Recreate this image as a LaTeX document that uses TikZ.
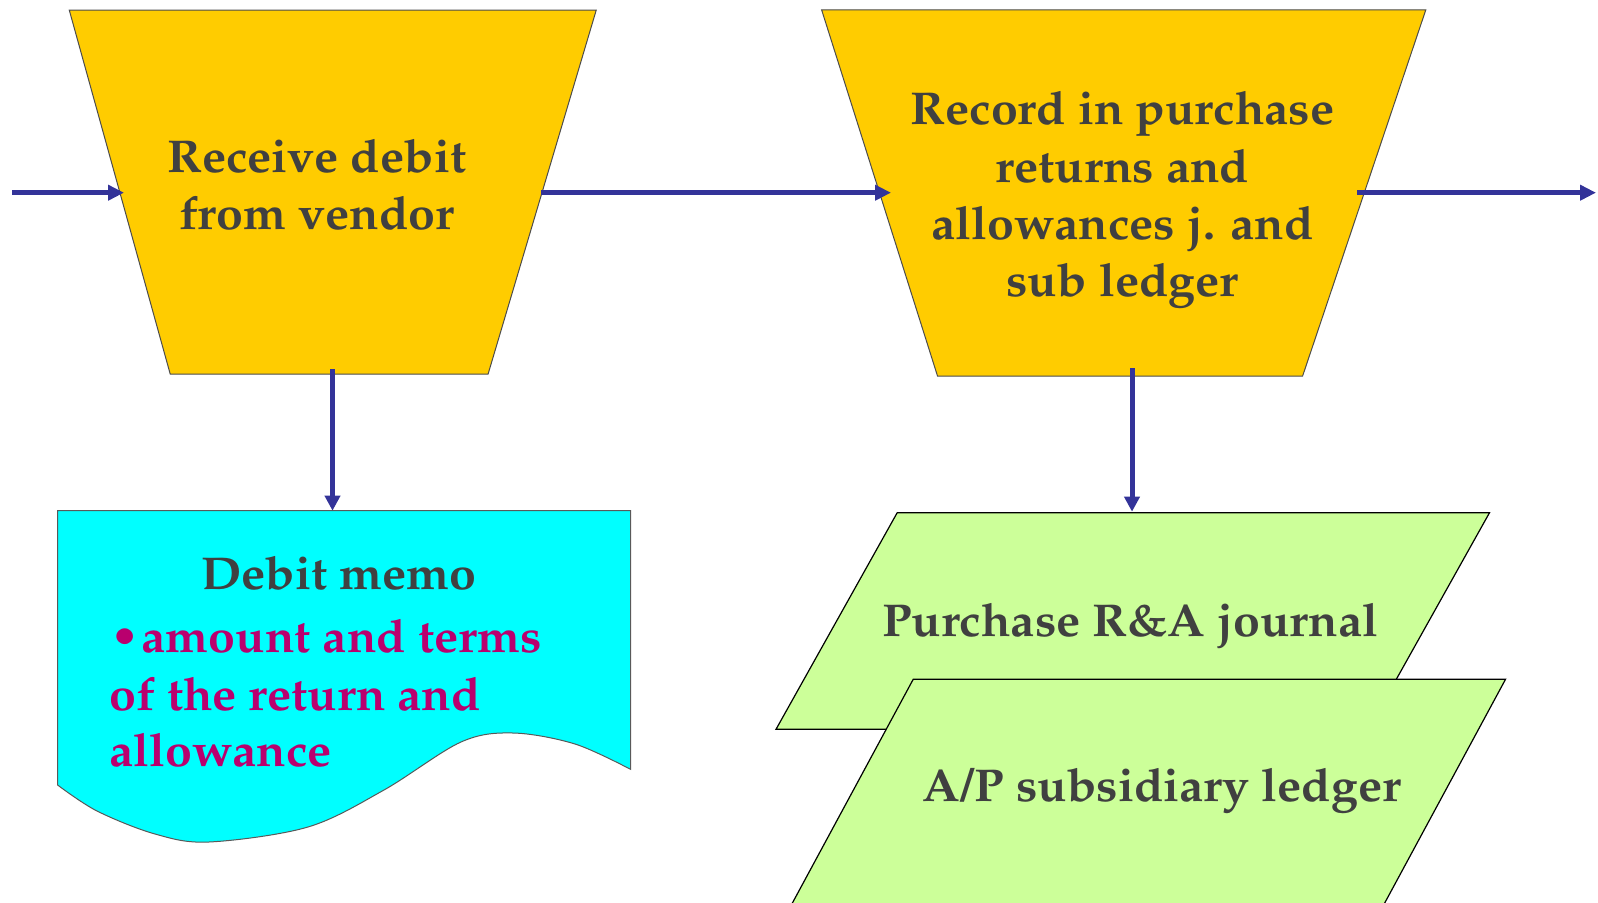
\documentclass[tikz,border=0pt]{standalone}
\usepackage[T1]{fontenc}
\usepackage{mathpazo}
\usetikzlibrary{arrows.meta}
\definecolor{flowblue}{RGB}{51,51,153}
\definecolor{procfill}{RGB}{255,204,0}
\definecolor{docfill}{RGB}{0,255,255}
\definecolor{ledgerfill}{RGB}{204,255,153}
\definecolor{labelgray}{RGB}{64,64,64}
\definecolor{notemagenta}{RGB}{185,0,110}
\tikzset{
  flow/.style={draw=flowblue, line width=2.6pt,
    -{Triangle[length=8pt,width=7.5pt]}},
  downflow/.style={draw=flowblue, line width=2.5pt,
    -{Triangle[length=7.5pt,width=7.5pt]}},
  procbox/.style={fill=procfill, draw=black!70, line width=0.5pt},
  docbox/.style={fill=docfill, draw=black!65, line width=0.5pt},
  ledgerbox/.style={fill=ledgerfill, draw=black, line width=0.6pt},
  lbl/.style={anchor=base, inner sep=0pt, text=labelgray, xscale=1.05,
    font=\fontsize{23}{29}\selectfont\bfseries},
  note/.style={anchor=base west, inner sep=0pt, text=notemagenta, xscale=1.05,
    font=\fontsize{23}{29}\selectfont\bfseries},
}
\begin{document}
\begin{tikzpicture}[x=0.5pt, y=-0.5pt]
\useasboundingbox (0,0) rectangle (1598,903);
\clip (0,0) rectangle (1598,903);

% manual operation: receive debit
\draw[procbox] (69.3,10.2) -- (596.2,10.2) -- (488.1,374) -- (170.2,374) -- cycle;
\node[lbl] (recv1) at (316.7,172.3) {Receive debit};
\node[lbl] (recv2) at (316.7,230) {from vendor};

% manual operation: record in journal
\draw[procbox] (821.6,9.8) -- (1425.8,9.8) -- (1302.6,376) -- (937.5,376) -- cycle;
\node[lbl] (rec1) at (1122.5,125) {Record in purchase};
\node[lbl] (rec2) at (1122.5,182.7) {returns and};
\node[lbl] (rec3) at (1122.5,239.3) {allowances j. and};
\node[lbl] (rec4) at (1122.5,296.7) {sub ledger};

% document: debit memo
\draw[docbox] (57.6,785) -- (57.6,510.7) -- (630.5,510.7) -- (630.5,769.3)
  -- plot[smooth, tension=0.55] coordinates {(630.5,769.3) (575,744) (513,733) (461,742)
    (384,790) (308,827) (209,842) (155,834) (97,811) (57.6,785)} -- cycle;
\node[lbl] (memo) at (338.7,589.3) {Debit memo};
\node[note] (memo1) at (110,652.3) {\textbullet\kern1pt amount and terms};
\node[note] (memo2) at (108.9,710) {of the return and};
\node[note] (memo3) at (108.9,766.7) {allowance};

% ledgers
\draw[ledgerbox] (897.2,512.7) -- (1489.5,512.7) -- (1368.3,729.3) -- (776,729.3) -- cycle;
\node[lbl] (jrnl) at (1130.3,636.7) {Purchase R\&A journal};
\draw[ledgerbox] (913.2,679.3) -- (1505.5,679.3) -- (1370.1,930) -- (777.8,930) -- cycle;
\node[lbl] (sub) at (1161.9,801.7) {A/P subsidiary ledger};

% connector ends
\coordinate (src)   at (12,192.7);
\coordinate (recvW) at (124,192.7);
\coordinate (recvE) at (541,192.7);
\coordinate (recW)  at (891,192.7);
\coordinate (recE)  at (1357,192.7);
\coordinate (sink)  at (1596,192.7);
\coordinate (recvS) at (332.5,369);
\coordinate (memoN) at (332.5,510.7);
\coordinate (recS)  at (1132,368);
\coordinate (jrnlN) at (1132,511.7);

\draw[flow] (src) -- (recvW);
\draw[flow] (recvE) -- (recW);
\draw[flow] (recE) -- (sink);
\draw[downflow] (recvS) -- (memoN);
\draw[downflow] (recS) -- (jrnlN);
\end{tikzpicture}
\end{document}
